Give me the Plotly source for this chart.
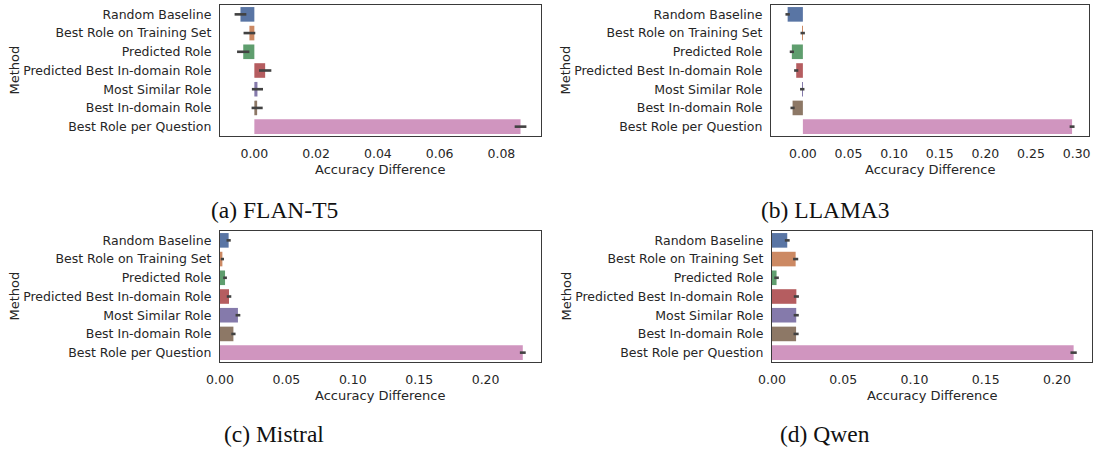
import plotly.graph_objects as go

# Methods compared, top to bottom
methods = [
    "Random Baseline",
    "Best Role on Training Set",
    "Predicted Role",
    "Predicted Best In-domain Role",
    "Most Similar Role",
    "Best In-domain Role",
    "Best Role per Question",
]

# Mean accuracy difference and error half-width per method, one pair per model
flan_t5_diff = [-0.0045, -0.0016, -0.0036, 0.0035, 0.0010, 0.0009, 0.0862]
flan_t5_err = [0.0019, 0.0019, 0.0020, 0.0020, 0.0018, 0.0018, 0.0019]

llama3_diff = [-0.0167, -0.0002, -0.0121, -0.0073, -0.0007, -0.0113, 0.2950]
llama3_err = [0.0024, 0.0024, 0.0023, 0.0023, 0.0024, 0.0023, 0.0027]

mistral_diff = [0.0065, 0.0018, 0.0038, 0.0068, 0.0135, 0.0101, 0.2280]
mistral_err = [0.0016, 0.0012, 0.0014, 0.0017, 0.0018, 0.0016, 0.0022]

qwen_diff = [0.0107, 0.0166, 0.0032, 0.0171, 0.0170, 0.0169, 0.2117]
qwen_err = [0.0017, 0.0018, 0.0016, 0.0018, 0.0018, 0.0018, 0.0022]

captions = ["(a) FLAN-T5", "(b) LLAMA3", "(c) Mistral", "(d) Qwen"]
x_ticks = [
    [0.00, 0.02, 0.04, 0.06, 0.08],
    [0.00, 0.05, 0.10, 0.15, 0.20, 0.25, 0.30],
    [0.00, 0.05, 0.10, 0.15, 0.20],
    [0.00, 0.05, 0.10, 0.15, 0.20],
]

palette = ["#5975A4", "#CC8963", "#5F9E6E", "#B55D60", "#857AAB", "#8D7866", "#D095BF"]

W, H = 1096, 450
TEXT = "#262626"
SANS = "DejaVu Sans"

# Plot boxes in pixels: (left, right, top, bottom)
boxes = [
    (220, 541, 5, 136),
    (771, 1089, 5, 136),
    (220, 541, 231, 362),
    (772, 1092, 231, 362),
]
caption_pos = [(274, 210), (825, 210), (274, 434), (825, 434)]

series = [
    (flan_t5_diff, flan_t5_err),
    (llama3_diff, llama3_err),
    (mistral_diff, mistral_err),
    (qwen_diff, qwen_err),
]

fig = go.Figure()
annotations = []

for i, ((vals, errs), box, ticks, cap, cpos) in enumerate(
    zip(series, boxes, x_ticks, captions, caption_pos)
):
    n = "" if i == 0 else str(i + 1)
    left, right, top, bottom = box

    fig.add_trace(
        go.Bar(
            x=vals,
            y=methods,
            orientation="h",
            width=0.78,
            marker=dict(color=palette, line=dict(width=0)),
            error_x=dict(
                type="data",
                array=errs,
                symmetric=True,
                color="#424242",
                thickness=2.6,
                width=0,
            ),
            xaxis="x" + n,
            yaxis="y" + n,
            showlegend=False,
        )
    )

    # data limits with a 5% pad, keeping the zero baseline pinned when all data is positive
    lo = min(0.0, min(v - e for v, e in zip(vals, errs)))
    hi = max(v + e for v, e in zip(vals, errs))
    if lo < 0:
        pad = 0.05 * (hi - lo)
        xr = [lo - pad, hi + pad]
    else:
        xr = [0.0, hi * 1.05]

    fig.layout["xaxis" + n] = dict(
        domain=[left / W, right / W],
        anchor="y" + n,
        range=xr,
        automargin=False,
        tickvals=ticks,
        ticktext=[f"{t:.2f}" for t in ticks],
        ticks="outside",
        ticklen=6,
        tickcolor="rgba(0,0,0,0)",
        tickfont=dict(family=SANS, size=12.5, color=TEXT),
        showgrid=False,
        zeroline=False,
        showline=True,
        linecolor="#3a3a3a",
        linewidth=1.3,
        mirror=True,
    )
    fig.layout["yaxis" + n] = dict(
        domain=[1 - bottom / H, 1 - top / H],
        anchor="x" + n,
        type="category",
        categoryorder="array",
        categoryarray=methods,
        range=[6.5, -0.5],
        automargin=False,
        ticks="outside",
        ticklen=5,
        tickcolor="rgba(0,0,0,0)",
        tickfont=dict(family=SANS, size=12.5, color=TEXT),
        showgrid=False,
        zeroline=False,
        showline=True,
        linecolor="#3a3a3a",
        linewidth=1.3,
        mirror=True,
    )

    # axis titles
    annotations.append(
        dict(
            text="Accuracy Difference",
            x=(left + right) / 2 / W,
            y=1 - (bottom + 33) / H,
            xref="paper",
            yref="paper",
            xanchor="center",
            yanchor="middle",
            showarrow=False,
            font=dict(family=SANS, size=13, color=TEXT),
        )
    )
    annotations.append(
        dict(
            text="Method",
            x=(left - 206) / W,
            y=1 - (top + bottom) / 2 / H,
            xref="paper",
            yref="paper",
            xanchor="center",
            yanchor="middle",
            textangle=-90,
            showarrow=False,
            font=dict(family=SANS, size=13, color=TEXT),
        )
    )
    # subfigure caption
    annotations.append(
        dict(
            text=cap,
            x=cpos[0] / W,
            y=1 - cpos[1] / H,
            xref="paper",
            yref="paper",
            xanchor="center",
            yanchor="middle",
            showarrow=False,
            font=dict(family="Liberation Serif", size=23.5, color="#111111"),
        )
    )

fig.update_layout(
    width=W,
    height=H,
    margin=dict(l=0, r=0, t=0, b=0, autoexpand=False),
    paper_bgcolor="white",
    plot_bgcolor="white",
    bargap=0.2,
    annotations=annotations,
)

fig.write_html("out.html")
